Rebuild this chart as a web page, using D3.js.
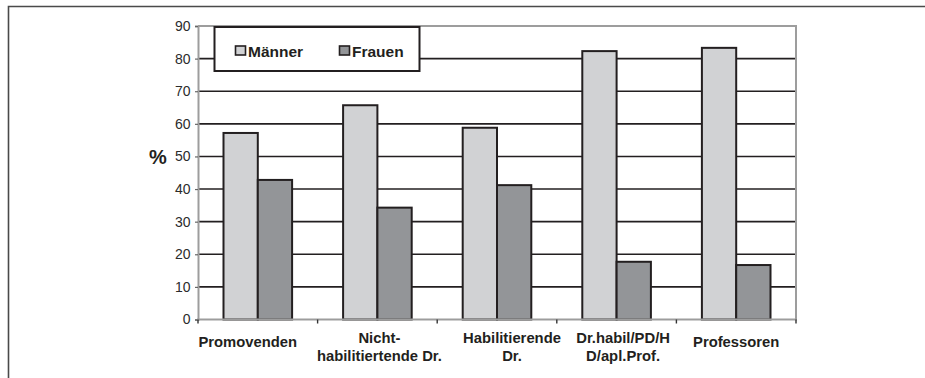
<!DOCTYPE html>
<html>
<head>
<meta charset="utf-8">
<script src="https://cdn.jsdelivr.net/npm/d3@7"></script>
<style>
  html, body { margin: 0; padding: 0; background: #fff; }
  svg { display: block; font-family: "Liberation Sans", Arial, Helvetica, sans-serif; }
</style>
</head>
<body>
<svg id="chart" width="925" height="378"></svg>
<script>
// Anteil nach Qualifikationsstufe, in Prozent
const categories = ["Promovenden", "Nicht-\nhabilitiertende Dr.", "Habilitierende\nDr.", "Dr.habil/PD/H\nD/apl.Prof.", "Professoren"];
const maenner = [57.2, 65.7, 58.8, 82.3, 83.3];
const frauen  = [42.8, 34.3, 41.2, 17.7, 16.7];
const seriesNames = ["Männer", "Frauen"];
const yTicks = [0, 10, 20, 30, 40, 50, 60, 70, 80, 90];

// horizontal nudges of the category labels (layout, px)
const labelShift = [-10, 2, 15, 6.5, 0];

const colors = ["#d1d2d4", "#939598"];
const ink = "#231f20";
const axisGrey = "#9d9d9d";

const svg = d3.select("#chart");

// outer frame (only top and left edges fall inside the view)
svg.append("path")
  .attr("d", "M8.5,378 V6.5 H925")
  .attr("fill", "none").attr("stroke", "#4a4a4a").attr("stroke-width", 1.6);

const plot = { left: 198, right: 796, top: 26, bottom: 319.5 };

const x = d3.scaleBand().domain(d3.range(categories.length)).range([plot.left, plot.right]).padding(0);
const y = d3.scaleLinear().domain([0, 90]).range([plot.bottom, plot.top]);

const groupPad = 25.5;
const barW = (x.bandwidth() - 2 * groupPad) / 2;

// gridlines
svg.append("g").selectAll("line")
  .data(yTicks.filter(t => t > 0 && t < 90))
  .join("line")
  .attr("x1", plot.left).attr("x2", plot.right)
  .attr("y1", d => y(d)).attr("y2", d => y(d))
  .attr("stroke", ink).attr("stroke-width", 1.6);

// plot area border (top, right)
svg.append("path")
  .attr("d", `M${plot.left},${plot.top} H${plot.right} V${plot.bottom}`)
  .attr("fill", "none").attr("stroke", axisGrey).attr("stroke-width", 2);

// bars
const series = [maenner, frauen];
series.forEach((vals, si) => {
  svg.append("g").selectAll("rect")
    .data(vals)
    .join("rect")
    .attr("x", (d, i) => x(i) + groupPad + si * barW)
    .attr("y", d => y(d))
    .attr("width", barW)
    .attr("height", d => y(0) - y(d))
    .attr("fill", colors[si])
    .attr("stroke", ink).attr("stroke-width", 2);
});

// y axis
const yAxis = svg.append("g").attr("transform", `translate(${plot.left},0)`)
  .call(d3.axisLeft(y).tickValues(yTicks).tickSize(3).tickPadding(4.5));
yAxis.select(".domain").attr("stroke", axisGrey).attr("stroke-width", 2);
yAxis.selectAll(".tick line").attr("stroke", "#666").attr("stroke-width", 1.2);
yAxis.selectAll(".tick text")
  .attr("fill", "#2b2b2b").style("font-size", "14px")
  .style("font-family", "'Liberation Sans', Arial, sans-serif");

// x axis
const bounds = d3.range(categories.length + 1).map(i => plot.left + i * x.bandwidth());
svg.append("line")
  .attr("x1", plot.left - 1).attr("x2", plot.right + 1)
  .attr("y1", plot.bottom).attr("y2", plot.bottom)
  .attr("stroke", axisGrey).attr("stroke-width", 2.2);
svg.append("g").selectAll("line")
  .data(bounds)
  .join("line")
  .attr("x1", d => d).attr("x2", d => d)
  .attr("y1", plot.bottom).attr("y2", plot.bottom + 4)
  .attr("stroke", "#333").attr("stroke-width", 1.4);

// category labels
const catLabels = svg.append("g")
  .style("font-size", "14.8px").style("font-weight", "bold")
  .attr("fill", "#231f20").attr("text-anchor", "middle");
categories.forEach((c, i) => {
  const lines = c.split("\n");
  const cx = x(i) + x.bandwidth() / 2 + labelShift[i];
  const y0 = lines.length === 1 ? 347 : 342.5;
  const t = catLabels.append("text").attr("x", cx).attr("y", y0);
  lines.forEach((ln, k) => {
    t.append("tspan").attr("x", cx).attr("y", y0 + k * 18).text(ln);
  });
});

// y axis title
svg.append("text")
  .attr("x", 158).attr("y", 164)
  .attr("text-anchor", "middle")
  .style("font-size", "20px").style("font-weight", "bold")
  .attr("fill", "#231f20")
  .text("%");

// legend
const lg = svg.append("g");
lg.append("rect")
  .attr("x", 214.5).attr("y", 27).attr("width", 205).attr("height", 44)
  .attr("fill", "#fff").attr("stroke", ink).attr("stroke-width", 2);
const legendX = [235.5, 339.5];
seriesNames.forEach((name, si) => {
  lg.append("rect")
    .attr("x", legendX[si]).attr("y", 46).attr("width", 10).attr("height", 9)
    .attr("fill", colors[si]).attr("stroke", ink).attr("stroke-width", 1.6);
  lg.append("text")
    .attr("x", legendX[si] + 12.5).attr("y", 56.5)
    .style("font-size", "15.5px").style("font-weight", "bold")
    .attr("fill", "#231f20")
    .text(name);
});
</script>
</body>
</html>
